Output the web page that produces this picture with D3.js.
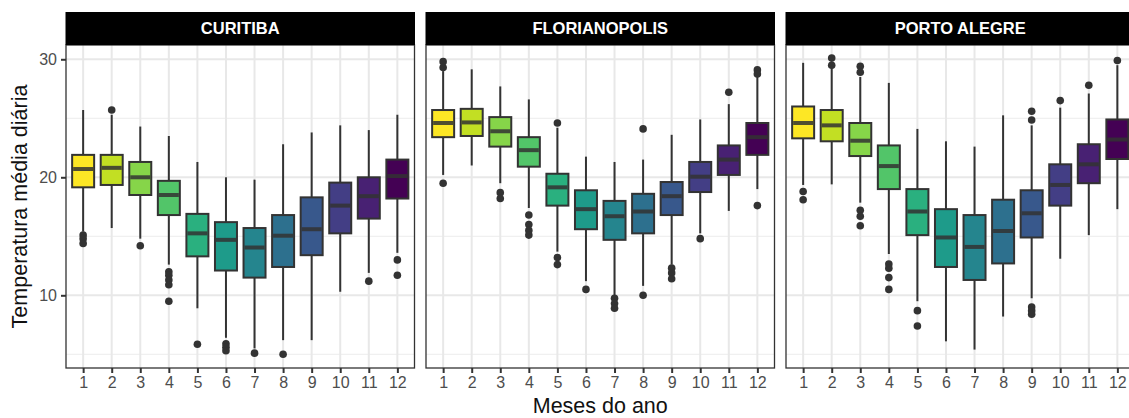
<!DOCTYPE html>
<html>
<head>
<meta charset="utf-8">
<script src="https://cdn.jsdelivr.net/npm/d3@7"></script>
<style>
  html, body { margin: 0; padding: 0; background: #fff; }
  svg { display: block; font-family: "Liberation Sans", Arial, sans-serif; }
</style>
</head>
<body>
<svg id="chart" width="1129" height="418"></svg>
<script>
// Monthly daily mean temperature distributions for three southern Brazilian cities
const months = [1, 2, 3, 4, 5, 6, 7, 8, 9, 10, 11, 12];
const cities = ["CURITIBA", "FLORIANOPOLIS", "PORTO ALEGRE"];
const yTicks = [10, 20, 30];

// [lower whisker, Q1, median, Q3, upper whisker] per month
const curitibaStats = [
  [15.4, 19.15, 20.7, 21.9, 25.7],
  [15.7, 19.35, 20.8, 21.9, 25.3],
  [14.8, 18.5, 20.0, 21.3, 24.3],
  [12.6, 16.8, 18.5, 19.7, 23.5],
  [8.9, 13.3, 15.25, 16.9, 21.3],
  [6.4, 12.1, 14.7, 16.2, 20.0],
  [5.5, 11.5, 14.05, 15.7, 19.8],
  [6.2, 12.4, 15.05, 16.8, 22.8],
  [6.2, 13.4, 15.6, 18.3, 23.8],
  [10.3, 15.25, 17.6, 19.55, 24.4],
  [11.9, 16.5, 18.4, 20.0, 24.0],
  [13.6, 18.2, 20.1, 21.5, 25.3]
];
const curitibaOutliers = [
  [15.1, 14.8, 14.4], [25.7], [14.2], [12.0, 11.7, 11.3, 10.9, 9.5],
  [5.85], [5.9, 5.6, 5.3], [5.1], [5.0], [], [], [11.2], [13.0, 11.7]
];

const florianopolisStats = [
  [20.2, 23.4, 24.6, 25.7, 29.0],
  [21.0, 23.5, 24.65, 25.8, 29.15],
  [19.5, 22.6, 23.9, 25.1, 27.7],
  [17.4, 20.9, 22.3, 23.4, 26.6],
  [13.7, 17.6, 19.15, 20.3, 24.2],
  [11.2, 15.6, 17.3, 18.9, 21.75],
  [10.0, 14.7, 16.7, 18.0, 21.3],
  [10.8, 15.25, 17.1, 18.6, 21.5],
  [12.6, 16.8, 18.4, 19.6, 23.6],
  [15.25, 18.75, 20.05, 21.3, 24.9],
  [17.15, 20.2, 21.5, 22.7, 26.2],
  [19.0, 21.9, 23.4, 24.6, 28.5]
];
const florianopolisOutliers = [
  [29.8, 29.3, 19.5], [], [18.7, 18.2], [16.8, 16.0, 15.5, 15.1],
  [24.6, 13.2, 12.6], [10.5], [9.75, 9.3, 8.9], [24.1, 10.0],
  [12.3, 11.9, 11.4], [14.8], [27.2], [29.1, 28.75, 17.6]
];

const portoAlegreStats = [
  [19.35, 23.3, 24.6, 26.0, 29.7],
  [19.4, 23.05, 24.4, 25.7, 29.4],
  [17.85, 21.8, 23.1, 24.6, 28.5],
  [13.5, 19.0, 20.95, 22.7, 28.0],
  [9.5, 15.1, 17.1, 19.0, 24.1],
  [6.1, 12.4, 14.9, 17.3, 23.05],
  [5.4, 11.3, 14.1, 16.8, 22.6],
  [8.2, 12.7, 15.45, 18.1, 25.25],
  [9.75, 14.9, 16.95, 18.9, 24.4],
  [13.1, 17.6, 19.35, 21.1, 25.9],
  [15.1, 19.5, 21.1, 22.8, 27.1],
  [17.3, 21.55, 23.2, 24.9, 29.5]
];
const portoAlegreOutliers = [
  [18.8, 18.1], [30.1, 29.5], [29.4, 28.9, 17.2, 16.7, 15.9],
  [12.65, 12.3, 11.5, 10.5], [8.7, 7.4], [], [], [],
  [25.6, 24.85, 9.0, 8.7, 8.4], [26.5], [27.8], [29.9]
];

const panels = [
  { name: cities[0], stats: curitibaStats, outliers: curitibaOutliers },
  { name: cities[1], stats: florianopolisStats, outliers: florianopolisOutliers },
  { name: cities[2], stats: portoAlegreStats, outliers: portoAlegreOutliers }
];

// Layout
const panelLeft = 66, panelWidth = 348.5, panelGap = 11.5;
const stripTop = 12, plotTop = 45, plotBottom = 368;
const ink = "#333333";

const svg = d3.select("#chart");

const y = d3.scaleLinear().domain([3.84, 31.21]).range([plotBottom, plotTop]);
const fill = d3.scaleOrdinal()
  .domain(months)
  .range(months.map((m, i) => d3.interpolateViridis(1 - i / (months.length - 1))));

panels.forEach((p, pi) => {
  const x0 = panelLeft + pi * (panelWidth + panelGap);
  const x = d3.scalePoint().domain(months).range([x0, x0 + panelWidth]).padding(0.6);
  const boxW = x.step() * 0.77;
  const g = svg.append("g");

  // grid: minor then major
  const minor = d3.range(5, 31, 10);
  g.selectAll("line.minor").data(minor).join("line")
    .attr("x1", x0).attr("x2", x0 + panelWidth)
    .attr("y1", d => y(d)).attr("y2", d => y(d))
    .attr("stroke", "#F0F0F0").attr("stroke-width", 1.2);
  g.selectAll("line.hmaj").data(yTicks).join("line")
    .attr("x1", x0).attr("x2", x0 + panelWidth)
    .attr("y1", d => y(d)).attr("y2", d => y(d))
    .attr("stroke", "#E8E8E8").attr("stroke-width", 2);
  g.selectAll("line.vmaj").data(months).join("line")
    .attr("x1", d => x(d)).attr("x2", d => x(d))
    .attr("y1", plotTop).attr("y2", plotBottom)
    .attr("stroke", "#E8E8E8").attr("stroke-width", 2);

  // whiskers
  g.selectAll("line.whisker").data(p.stats).join("line")
    .attr("x1", (d, i) => x(months[i])).attr("x2", (d, i) => x(months[i]))
    .attr("y1", d => y(d[0])).attr("y2", d => y(d[4]))
    .attr("stroke", ink).attr("stroke-width", 2);

  // boxes
  g.selectAll("rect.box").data(p.stats).join("rect")
    .attr("x", (d, i) => x(months[i]) - boxW / 2)
    .attr("width", boxW)
    .attr("y", d => y(d[3]))
    .attr("height", d => y(d[1]) - y(d[3]))
    .attr("fill", (d, i) => fill(months[i]))
    .attr("stroke", ink).attr("stroke-width", 2);

  // medians
  g.selectAll("line.median").data(p.stats).join("line")
    .attr("x1", (d, i) => x(months[i]) - boxW / 2 + 1)
    .attr("x2", (d, i) => x(months[i]) + boxW / 2 - 1)
    .attr("y1", d => y(d[2])).attr("y2", d => y(d[2]))
    .attr("stroke", ink).attr("stroke-opacity", 0.85).attr("stroke-width", 4);

  // outliers
  const pts = p.outliers.flatMap((arr, i) => arr.map(v => ({ m: months[i], v })));
  g.selectAll("circle.out").data(pts).join("circle")
    .attr("cx", d => x(d.m)).attr("cy", d => y(d.v))
    .attr("r", 3.8).attr("fill", ink);

  // panel border
  g.append("rect")
    .attr("x", x0).attr("y", plotTop)
    .attr("width", panelWidth).attr("height", plotBottom - plotTop)
    .attr("fill", "none").attr("stroke", ink).attr("stroke-width", 1.3);

  // strip
  g.append("rect")
    .attr("x", x0 - 0.5).attr("y", stripTop)
    .attr("width", panelWidth + 1).attr("height", plotTop - stripTop)
    .attr("fill", "#000");
  g.append("text")
    .attr("x", x0 + panelWidth / 2).attr("y", (stripTop + plotTop) / 2 + 1)
    .attr("text-anchor", "middle").attr("dominant-baseline", "middle")
    .attr("fill", "#fff").attr("font-weight", "bold").attr("font-size", 16.5)
    .text(p.name);

  // x axis
  const xAxis = g.append("g")
    .attr("transform", `translate(0,${plotBottom})`)
    .call(d3.axisBottom(x).tickSize(5).tickPadding(4));
  xAxis.select(".domain").remove();
  xAxis.selectAll(".tick line").attr("stroke", ink).attr("stroke-width", 2);
  xAxis.selectAll(".tick text").attr("fill", "#4D4D4D").attr("font-size", 16)
    .attr("font-family", "Liberation Sans, Arial, sans-serif");

  // y axis on the first panel only
  if (pi === 0) {
    const yAxis = g.append("g")
      .attr("transform", `translate(${x0},0)`)
      .call(d3.axisLeft(y).tickValues(yTicks).tickSize(5).tickPadding(4));
    yAxis.select(".domain").remove();
    yAxis.selectAll(".tick line").attr("stroke", ink).attr("stroke-width", 2);
    yAxis.selectAll(".tick text").attr("fill", "#4D4D4D").attr("font-size", 16)
      .attr("font-family", "Liberation Sans, Arial, sans-serif");
  }
});

// axis titles
const fullRight = panelLeft + 3 * panelWidth + 2 * panelGap;
svg.append("text")
  .attr("x", (panelLeft + fullRight) / 2).attr("y", 413)
  .attr("text-anchor", "middle").attr("font-size", 21.5).attr("fill", "#111")
  .text("Meses do ano");
svg.append("text")
  .attr("transform", `translate(27,${(plotTop + plotBottom) / 2}) rotate(-90)`)
  .attr("text-anchor", "middle").attr("font-size", 21.5).attr("fill", "#111")
  .text("Temperatura média diária");
</script>
</body>
</html>
